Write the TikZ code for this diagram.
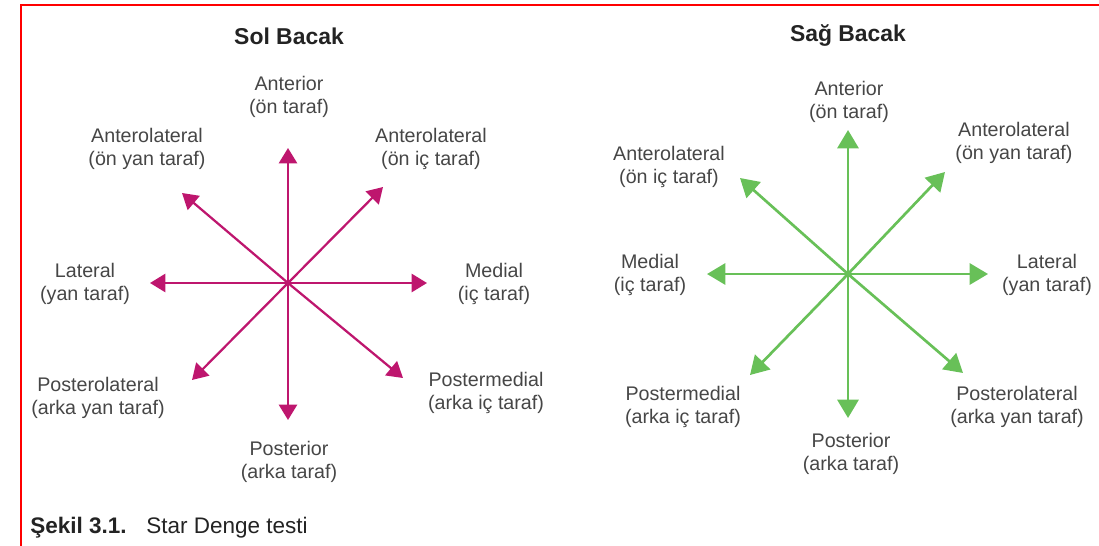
\documentclass[tikz,border=0pt]{standalone}
\usepackage{fontspec}
\setmainfont{Liberation Sans}
\usepackage{xcolor}
\usetikzlibrary{arrows.meta}

\definecolor{solpink}{RGB}{190,22,110}
\definecolor{saggreen}{RGB}{104,192,88}
\definecolor{labelgray}{RGB}{70,70,70}
\definecolor{titlegray}{RGB}{35,35,35}

\begin{document}
\begin{tikzpicture}[
  x=0.025cm, y=-0.025cm,
  dirtext/.style={align=center, inner sep=0pt, text=labelgray, font=\fontsize{14}{16.4}\selectfont},
  legtitle/.style={inner sep=0pt, text=titlegray, font=\fontsize{16.3}{18}\selectfont\bfseries},
  captext/.style={inner sep=0pt, anchor=west, text=titlegray, font=\fontsize{16}{18}\selectfont},
  solarrow/.style={-{Triangle[length=11pt,width=13pt]}, line width=1.6pt, solpink},
  sagarrow/.style={-{Triangle[length=13pt,width=15pt]}, line width=1.9pt, saggreen}
]
  \useasboundingbox (0,0) rectangle (1099,546);

  % Frame
  \draw[red, line width=2.1pt] (21,560) -- (21,5) -- (1110,5);

  % Titles
  \node[legtitle] (soltitle) at (289,36) {Sol Bacak};
  \node[legtitle] (sagtitle) at (848,36) {Sağ Bacak};

  % Left leg star
  \coordinate (lc) at (288,283);
  \coordinate (lN) at (288,148);
  \coordinate (lS) at (288,420);
  \coordinate (lW) at (150,283);
  \coordinate (lE) at (427,283);
  \coordinate (lNW) at (182,193);
  \coordinate (lNE) at (383,187);
  \coordinate (lSE) at (403,378);
  \coordinate (lSW) at (192,380);
  \draw[solarrow] (lc) -- (lN);
  \draw[solarrow] (lc) -- (lS);
  \draw[solarrow] (lc) -- (lW);
  \draw[solarrow] (lc) -- (lE);
  \draw[solarrow] (lc) -- (lNW);
  \draw[solarrow] (lc) -- (lNE);
  \draw[solarrow] (lc) -- (lSE);
  \draw[solarrow] (lc) -- (lSW);

  \node[dirtext] (lanterior) at (289,97) {Anterior\\(ön taraf)};
  \node[dirtext] (lantlat) at (147,149) {Anterolateral\\(ön yan taraf)};
  \node[dirtext] (lantmed) at (431,149) {Anterolateral\\(ön iç taraf)};
  \node[dirtext] (llateral) at (85,284) {Lateral\\(yan taraf)};
  \node[dirtext] (lmedial) at (494,284) {Medial\\(iç taraf)};
  \node[dirtext] (lpostlat) at (98,398) {Posterolateral\\(arka yan taraf)};
  \node[dirtext] (lpostmed) at (486,393) {Postermedial\\(arka iç taraf)};
  \node[dirtext] (lposterior) at (289,462) {Posterior\\(arka taraf)};

  % Right leg star
  \coordinate (rc) at (848,274);
  \coordinate (rN) at (848,130);
  \coordinate (rS) at (848,418);
  \coordinate (rW) at (707,274);
  \coordinate (rE) at (988,274);
  \coordinate (rNW) at (740,178);
  \coordinate (rNE) at (945,172);
  \coordinate (rSE) at (963,373);
  \coordinate (rSW) at (750,375);
  \draw[sagarrow] (rc) -- (rN);
  \draw[sagarrow] (rc) -- (rS);
  \draw[sagarrow] (rc) -- (rW);
  \draw[sagarrow] (rc) -- (rE);
  \draw[sagarrow] (rc) -- (rNW);
  \draw[sagarrow] (rc) -- (rNE);
  \draw[sagarrow] (rc) -- (rSE);
  \draw[sagarrow] (rc) -- (rSW);

  \node[dirtext] (ranterior) at (849,102) {Anterior\\(ön taraf)};
  \node[dirtext] (rantmed) at (669,167) {Anterolateral\\(ön iç taraf)};
  \node[dirtext] (rantlat) at (1014,143) {Anterolateral\\(ön yan taraf)};
  \node[dirtext] (rmedial) at (650,275) {Medial\\(iç taraf)};
  \node[dirtext] (rlateral) at (1047,275) {Lateral\\(yan taraf)};
  \node[dirtext] (rpostmed) at (683,407) {Postermedial\\(arka iç taraf)};
  \node[dirtext] (rpostlat) at (1017,407) {Posterolateral\\(arka yan taraf)};
  \node[dirtext] (rposterior) at (851,454) {Posterior\\(arka taraf)};

  % Caption
  \node[captext, font=\fontsize{16}{18}\selectfont\bfseries] (capnum) at (30,528) {Şekil 3.1.};
  \node[captext] (captitle) at (146,528) {Star Denge testi};
\end{tikzpicture}
\end{document}
